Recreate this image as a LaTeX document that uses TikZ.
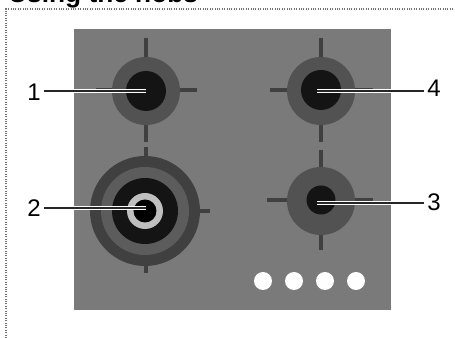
\documentclass[tikz,border=0pt]{standalone}
\usepackage{fontspec}
\setmainfont{Liberation Sans}
\usepackage{xcolor}
\usepackage{tikz}
\usetikzlibrary{positioning, arrows.meta}

\begin{document}
\begin{tikzpicture}[
  x=0.75pt, y=-0.75pt,
  frame/.style={densely dotted, line width=0.8pt, black!55},
  panel/.style={fill=black!52, draw=none},
  bar/.style={line width=2.6pt, black!75},
  ring/.style={circle, draw=none, inner sep=0pt},
  outerring/.style={ring, fill=black!68, minimum size=68*0.75pt},
  innerring/.style={ring, fill=black!92, minimum size=40*0.75pt},
  knob/.style={circle, fill=white, inner sep=0pt, minimum size=18*0.75pt},
  num/.style={font=\fontsize{18pt}{18pt}\selectfont, inner sep=0pt},
  lead/.style={line width=1.7pt, black!85, preaction={draw=white, line width=3.2pt}}
]
  \useasboundingbox (0,0) rectangle (455,338);
  \node[anchor=base west, inner sep=0pt, font=\bfseries\fontsize{19.7pt}{20pt}\selectfont] (title) at (8,3) {Using the hobs};
  \draw[frame] (6,338) -- (6,9) -- (455,9);
  \fill[panel] (74,29) rectangle (391,310);
  % crosses behind the burners
  \draw[bar] (146,38) -- (146,142);
  \draw[bar] (146,147) -- (146,273);
  \draw[bar] (96,90) -- (197,90);
  \draw[bar] (90,211) -- (210,211);
  \draw[bar] (321,38) -- (321,142);
  \draw[bar] (321,150) -- (321,250);
  \draw[bar] (270,90) -- (373,90);
  \draw[bar] (267,200) -- (373,200);
  % burners
  \node[outerring] (ringa) at (146,91) {};
  \node[innerring] (corea) at (146,91) {};
  \node[outerring] (ringd) at (321,91) {};
  \node[innerring] (cored) at (321,90) {};
  \node[outerring] (ringc) at (321,201) {};
  \node[innerring, minimum size=29*0.75pt] (corec) at (321,200) {};
  \node[ring, fill=black!75, minimum size=110*0.75pt] (ringb) at (145,211) {};
  \node[ring, fill=black!64, minimum size=88*0.75pt] (bandb) at (145,211) {};
  \node[innerring, minimum size=66*0.75pt] (midb) at (145,211) {};
  \node[ring, fill=black!25, minimum size=36*0.75pt] (lightb) at (145,211) {};
  \node[ring, fill=black, minimum size=23*0.75pt] (coreb) at (145,211) {};
  % buttons
  \foreach \n/\px in {a/263, b/294, c/325, d/356}
    \node[knob] (knob\n) at (\px,281) {};
  % numbers
  \node[num] (numa) at (34,92) {1};
  \node[num] (numb) at (34,208) {2};
  \node[num] (numc) at (434,202) {3};
  \node[num] (numd) at (434,88) {4};
  \coordinate (tipa) at (146,91);
  \coordinate (tipb) at (146,208);
  \coordinate (tipc) at (317,203);
  \coordinate (tipd) at (317,91);
  \draw[lead] (numa.east |- tipa) ++(3,0) -- (tipa);
  \draw[lead] (numb.east |- tipb) ++(3,0) -- (tipb);
  \draw[lead] (numc.west |- tipc) ++(-3,0) -- (tipc);
  \draw[lead] (numd.west |- tipd) ++(-3,0) -- (tipd);
\end{tikzpicture}
\end{document}
